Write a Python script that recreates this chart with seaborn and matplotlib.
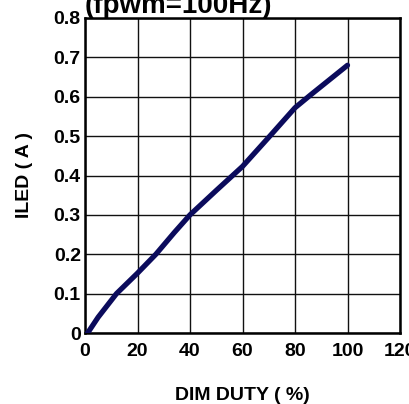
import matplotlib
matplotlib.use("Agg")
import matplotlib.pyplot as plt
import pandas as pd
import seaborn as sns

# values
duty = [1, 5, 12, 20, 27, 34, 40, 50, 60, 70, 80, 86, 100]
iled = [0.0, 0.04, 0.10, 0.152, 0.20, 0.255, 0.30, 0.362, 0.423, 0.497, 0.572, 0.605, 0.68]
x_ticks = [0, 20, 40, 60, 80, 100, 120]
y_ticks = [0, 0.1, 0.2, 0.3, 0.4, 0.5, 0.6, 0.7, 0.8]
y_labels = ["0", "0.1", "0.2", "0.3", "0.4", "0.5", "0.6", "0.7", "0.8"]

sns.set_style("white")
plt.rcParams["font.family"] = ["Liberation Sans", "DejaVu Sans"]
plt.rcParams["text.color"] = "black"
plt.rcParams["axes.labelcolor"] = "black"
plt.rcParams["xtick.color"] = "black"
plt.rcParams["ytick.color"] = "black"

df = pd.DataFrame({"duty": duty, "iled": iled})

fig = plt.figure(figsize=(4.09, 4.04), dpi=100)
ax = fig.add_axes([85 / 409, 71 / 404, 315 / 409, 315 / 404])

sns.lineplot(data=df, x="duty", y="iled", ax=ax, color="#0b0b5c", linewidth=3.8, zorder=3)

ax.set_xlim(0, 120)
ax.set_ylim(0, 0.8)
ax.set_xticks(x_ticks)
ax.set_yticks(y_ticks)
ax.set_yticklabels(y_labels)
ax.grid(True, color="#111111", linewidth=1.0)
ax.tick_params(length=0, labelsize=14)
ax.tick_params(axis="x", pad=7)
ax.tick_params(axis="y", pad=3)
for lab in ax.get_xticklabels() + ax.get_yticklabels():
    lab.set_fontweight("bold")
for sp in ax.spines.values():
    sp.set_color("black")
    sp.set_linewidth(1.8)

ax.set_xlabel("DIM DUTY ( %)", fontsize=14, fontweight="bold", labelpad=20)
ax.set_ylabel("ILED ( A )", fontsize=14, fontweight="bold", labelpad=15)

fig.text(85 / 409, 1 - 13 / 404, "(fpwm=100Hz)", fontsize=20, fontweight="bold",
         ha="left", va="baseline")

fig.savefig("out.png", dpi=100)
